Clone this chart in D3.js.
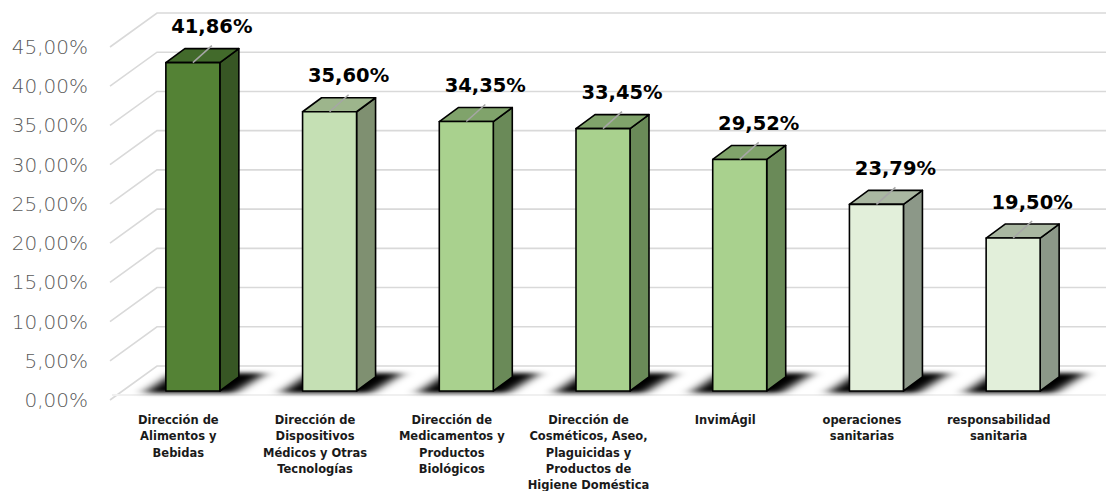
<!DOCTYPE html>
<html><head><meta charset="utf-8">
<script src="https://cdn.jsdelivr.net/npm/d3@7"></script>
<style>html,body{margin:0;padding:0;background:#fff;}svg{display:block;}</style>
</head><body>
<svg id="chart" width="1106" height="491"></svg>
<script>
const categories = [
  "Dirección de Alimentos y Bebidas",
  "Dirección de Dispositivos Médicos y Otras Tecnologías",
  "Dirección de Medicamentos y Productos Biológicos",
  "Dirección de Cosméticos, Aseo, Plaguicidas y Productos de Higiene Doméstica",
  "InvimÁgil",
  "operaciones sanitarias",
  "responsabilidad sanitaria"
];
const categoryLines = [
  ["Dirección de", "Alimentos y", "Bebidas"],
  ["Dirección de", "Dispositivos", "Médicos y Otras", "Tecnologías"],
  ["Dirección de", "Medicamentos y", "Productos", "Biológicos"],
  ["Dirección de", "Cosméticos, Aseo,", "Plaguicidas y", "Productos de", "Higiene Doméstica"],
  ["InvimÁgil"],
  ["operaciones", "sanitarias"],
  ["responsabilidad", "sanitaria"]
];
const values = [41.86, 35.60, 34.35, 33.45, 29.52, 23.79, 19.50];
const yTicks = [0, 5, 10, 15, 20, 25, 30, 35, 40, 45];

// styles (separate from data)
const palette = {
  dark:  {front: "#548235", top: "#426a2b", side: "#375624"},
  light: {front: "#c5e0b4", top: "#9db58c", side: "#7f9071"},
  mid:   {front: "#a9d18e", top: "#80a36b", side: "#6a8a58"},
  pale:  {front: "#e2efda", top: "#a9b7a1", side: "#8c9888"}
};
const barStyle = ["dark", "light", "mid", "mid", "mid", "pale", "pale"];

const svg = d3.select("#chart");
const W = 1106;
const wallDX = 47, wallDY = -34;
const barOffX = 12.5, barOffY = -9;
const depthX = 19, depthY = -14;
const barW = 54;

const y = d3.scaleLinear().domain([0, 45]).range([400, 47]);
const x = d3.scaleBand().domain(categories).range([112, 1069]).padding(0);

const locale = d3.formatLocale({decimal: ",", thousands: ".", grouping: [3], currency: ["", ""]});
const fmt = v => locale.format(".2f")(v) + "%";

const defs = svg.append("defs");
const f = defs.append("filter").attr("id", "shadow").attr("x", "-50%").attr("y", "-100%").attr("width", "200%").attr("height", "300%");
f.append("feGaussianBlur").attr("stdDeviation", "7 2.2");

// gridlines (side wall + back wall)
const grid = svg.append("g");
grid.selectAll("path").data(yTicks).join("path")
  .attr("d", t => `M110,${y(t)} L${110 + wallDX},${y(t) + wallDY} L${W},${y(t) + wallDY}`)
  .attr("fill", "none").attr("stroke", "#d9d9d9").attr("stroke-width", 1.6);
// faint floor front edge
svg.append("line").attr("x1", 112).attr("x2", W).attr("y1", y(0) - 5).attr("y2", y(0) - 5)
  .attr("stroke", "#f0f0f0").attr("stroke-width", 2);

// y tick labels
svg.append("g").selectAll("text").data(yTicks).join("text")
  .attr("x", 88).attr("y", t => y(t))
  .attr("text-anchor", "end").attr("dominant-baseline", "central")
  .attr("font-family", "'DejaVu Sans', sans-serif").attr("font-weight", 300)
  .attr("font-size", 20).attr("fill", "#595959")
  .text(t => fmt(t));

const bars = values.map((v, i) => {
  const c = x(categories[i]) + x.bandwidth() / 2;
  const L = c + barOffX - barW / 2, R = L + barW;
  const top = y(v) + barOffY, bot = y(0) + barOffY;
  return {v, i, c, L, R, top, bot, st: palette[barStyle[i]]};
});

// shadows
svg.append("g").attr("filter", "url(#shadow)").selectAll("path").data(bars).join("path")
  .attr("d", b => `M${b.L - 22},${b.bot + 2} L${b.R + 14},${b.bot + 2} L${b.R + 46},${b.bot - 18} L${b.L + 8},${b.bot - 18} Z`)
  .attr("fill", "#000");

// bars
const g = svg.append("g").attr("stroke", "#000").attr("stroke-width", 1.6).attr("stroke-linejoin", "round");
const bg = g.selectAll("g").data(bars).join("g");
bg.append("path").attr("d", b => `M${b.R},${b.top} L${b.R + depthX},${b.top + depthY} L${b.R + depthX},${b.bot + depthY} L${b.R},${b.bot} Z`)
  .attr("fill", b => b.st.side);
bg.append("path").attr("d", b => `M${b.L},${b.top} L${b.L + depthX},${b.top + depthY} L${b.R + depthX},${b.top + depthY} L${b.R},${b.top} Z`)
  .attr("fill", b => b.st.top);
bg.append("rect").attr("x", b => b.L).attr("y", b => b.top).attr("width", barW).attr("height", b => b.bot - b.top)
  .attr("fill", b => b.st.front);

// leader lines
svg.append("g").selectAll("line").data(bars).join("line")
  .attr("x1", b => (b.L + b.R) / 2).attr("y1", b => b.top)
  .attr("x2", b => (b.L + b.R) / 2 + depthX).attr("y2", b => b.top + depthY - 3)
  .attr("stroke", "#a6a6a6").attr("stroke-width", 1.5);

// value labels
svg.append("g").selectAll("text").data(bars).join("text")
  .attr("x", b => (b.L + b.R) / 2 + depthX).attr("y", b => b.top + depthY - 22)
  .attr("text-anchor", "middle").attr("dominant-baseline", "central")
  .attr("font-family", "'DejaVu Sans', sans-serif").attr("font-weight", "bold")
  .attr("font-size", 19.5).attr("fill", "#000")
  .text(b => fmt(b.v));

// category labels
const cl = svg.append("g").selectAll("text").data(categories).join("text")
  .attr("x", d => x(d) + x.bandwidth() / 2 - 2)
  .attr("text-anchor", "middle")
  .attr("font-family", "'DejaVu Sans', sans-serif").attr("font-weight", "bold")
  .attr("font-size", 11.5).attr("fill", "#1a1a1a");
cl.each(function(d, i) {
  d3.select(this).selectAll("tspan").data(categoryLines[i]).join("tspan")
    .attr("x", x(d) + x.bandwidth() / 2 - 2)
    .attr("y", (s, k) => 424 + k * 16.3)
    .text(s => s);
});
</script>
</body></html>
